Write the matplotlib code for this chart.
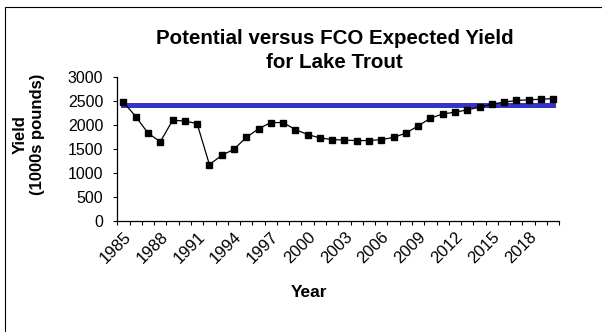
import matplotlib.pyplot as plt
import numpy as np
from matplotlib.patches import Rectangle

plt.rcParams['font.family'] = ['Liberation Sans', 'DejaVu Sans']

# FCO expected yield for lake trout, 1000s of pounds
years = list(range(1985, 2021))
expected = [2470, 2170, 1825, 1645, 2090, 2080, 2020, 1170, 1360, 1490,
            1735, 1915, 2045, 2045, 1900, 1795, 1725, 1690, 1680, 1670,
            1670, 1690, 1735, 1825, 1975, 2135, 2225, 2260, 2310, 2365,
            2430, 2470, 2505, 2520, 2530, 2545]
potential = 2420

label_years = list(range(1985, 2021, 3))

x = np.arange(len(years))

fig = plt.figure(figsize=(6.02, 3.32), dpi=100)
ax = fig.add_axes([0.1949, 0.3352, 0.7342, 0.4337])

# outer frame, open on the right and bottom
fig.patches.append(Rectangle((5 / 602, -0.5), 2.0, 1.5 - 7 / 332,
                             transform=fig.transFigure, fill=False,
                             edgecolor='black', linewidth=0.8, clip_on=False))

ax.plot([x[0], x[-1]], [potential, potential], color='#3434c8',
        linewidth=3.6, solid_capstyle='projecting', zorder=2)
ax.plot(x, expected, color='black', linewidth=0.9, marker='s',
        markersize=5, zorder=3)

ax.set_xlim(-0.5, len(years) - 0.5)
ax.set_ylim(0, 3000)
ax.set_yticks(range(0, 3001, 500))
ax.tick_params(axis='y', direction='out', length=3, width=0.8,
               labelsize=11.5, pad=7)

# tick marks between categories, labels on every third year
ax.set_xticks(np.arange(-0.5, len(years), 1))
ax.set_xticklabels([])
ax.tick_params(axis='x', which='major', direction='out', length=3, width=0.8)
ax.set_xticks([years.index(y) for y in label_years], minor=True)
ax.set_xticklabels([str(y) for y in label_years], minor=True, rotation=45,
                   ha='right', va='top', rotation_mode='anchor', fontsize=12)
ax.tick_params(axis='x', which='minor', length=0, pad=6)

for s in ['top', 'right']:
    ax.spines[s].set_visible(False)
for s in ['left', 'bottom']:
    ax.spines[s].set_linewidth(0.9)

fig.text(0.556, 0.848, 'Potential versus FCO Expected Yield\nfor Lake Trout',
         ha='center', va='center', fontsize=14.8, fontweight='bold',
         linespacing=1.3)
fig.text(0.048, 0.595, 'Yield\n(1000s pounds)', rotation=90, ha='center',
         va='center', fontsize=12, fontweight='bold', linespacing=1.2)
fig.text(0.513, 0.12, 'Year', ha='center', va='center', fontsize=12.5,
         fontweight='bold')

fig.savefig('out.png', dpi=100)
